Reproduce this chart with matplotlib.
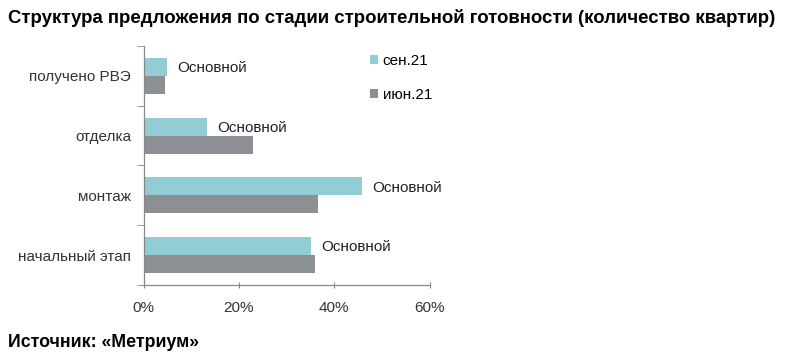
import numpy as np
import matplotlib.pyplot as plt

plt.rcParams['font.family'] = ['Liberation Sans', 'DejaVu Sans']

categories = ['начальный этап', 'монтаж', 'отделка', 'получено РВЭ']
sep21 = [35.2, 45.9, 13.4, 5.0]
jun21 = [35.9, 36.5, 22.9, 4.4]
bar_label = 'Основной'

c_sep = '#92cdd5'
c_jun = '#8c8f93'

fig = plt.figure(figsize=(7.93, 3.59), dpi=100)
ax = fig.add_axes([0.181, 0.206, 0.3607, 0.666])

y = np.arange(len(categories))
h = 0.3
ax.barh(y + h / 2, sep21, height=h, color=c_sep, label='сен.21')
ax.barh(y - h / 2, jun21, height=h, color=c_jun, label='июн.21')

for yi, v in zip(y, sep21):
    ax.text(v + 2, yi + h / 2 - 0.02, bar_label, va='center', ha='left',
            fontsize=11, color='#222222')

ax.set_xlim(0, 60)
ax.set_ylim(-0.5, len(categories) - 0.5)
ax.set_xticks([0, 20, 40, 60])
ax.set_xticklabels(['0%', '20%', '40%', '60%'], fontsize=11, color='#333333')
ax.set_yticks(y)
ax.set_yticklabels(categories, fontsize=11, color='#333333')
ax.set_yticks(np.arange(-0.5, len(categories), 1), minor=True)
ax.tick_params(axis='y', which='major', length=0, pad=9)
ax.tick_params(axis='y', which='minor', length=5, color='#888888', direction='out')
ax.tick_params(axis='x', length=5, color='#888888', direction='inout', pad=9)

for s in ['top', 'right']:
    ax.spines[s].set_visible(False)
for s in ['left', 'bottom']:
    ax.spines[s].set_color('#888888')
    ax.spines[s].set_linewidth(0.9)

ax.legend(loc='upper left', bbox_to_anchor=(0.745, 1.025), frameon=False,
          fontsize=11, handlelength=0.5, handleheight=0.5, handletextpad=0.3,
          labelspacing=1.3)

fig.text(0.01, 0.975, 'Структура предложения по стадии строительной готовности (количество квартир)',
         fontsize=13.4, fontweight='bold', va='top', ha='left')
fig.text(0.01, 0.022, 'Источник: «Метриум»', fontsize=12.8, fontweight='bold',
         va='bottom', ha='left')

fig.savefig('out.png', dpi=100)
